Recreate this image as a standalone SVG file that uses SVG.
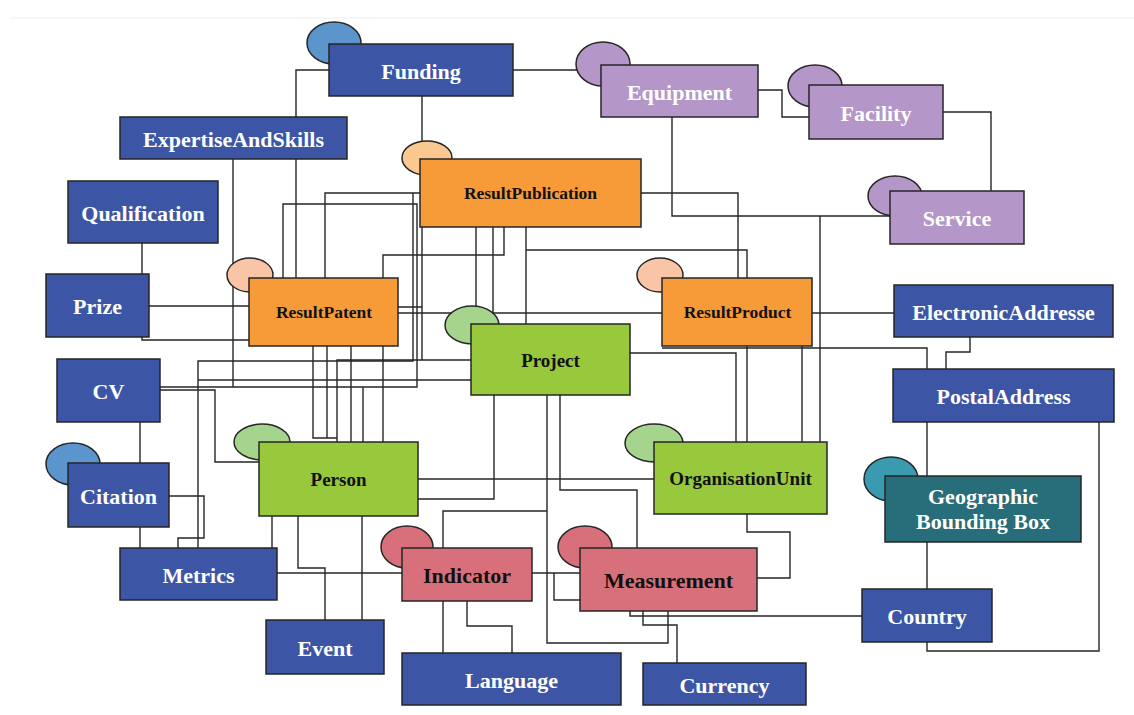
<svg xmlns="http://www.w3.org/2000/svg" width="1134" height="715" viewBox="0 0 1134 715">
<style>
.bg{fill:#ffffff}
.c path{fill:none;stroke:#262626;stroke-width:1.4}
rect{stroke:#262626;stroke-width:1.5}
ellipse{stroke:#262626;stroke-width:1.5}
.blue{fill:#3D55A5}
.pur{fill:#B496C8}
.ora{fill:#F79A38}
.grn{fill:#98C83C}
.red{fill:#D8707C}
.teal{fill:#276D7A}
.eblue{fill:#5B95CB}
.epeach{fill:#FBC98F}
.epink{fill:#F9C5A6}
.egrn{fill:#A5D48D}
.eteal{fill:#3A9AAF}
text{font-family:"Liberation Serif","Times New Roman",serif;font-weight:bold;text-anchor:middle}
.w{fill:#ffffff;font-size:22px}
.k{fill:#111111;font-size:22px}
.g{fill:#111111;font-size:19px}
.o{fill:#111111;font-size:17.5px}
</style>
<rect class="bg" x="0" y="0" width="1134" height="715" style="stroke:none"/>
<line x1="10" y1="18" x2="1134" y2="18" stroke="#eeeeee" stroke-width="1"/>
<g id="connectors" class="c">
<path d="M513,70 H578"/>
<path d="M329,70 H296 V278"/>
<path d="M422,96 V142"/>
<path d="M758,90 H782 V117 H809"/>
<path d="M672,117 V216 H890"/>
<path d="M820,216 V442"/>
<path d="M943,112 H991 V191"/>
<path d="M233,159 V387"/>
<path d="M160,387 H417 V204 H283 V278"/>
<path d="M363,387 V442"/>
<path d="M142,243 V274"/>
<path d="M149,306 H249"/>
<path d="M142,337 V340 H249"/>
<path d="M420,193 H325 V278"/>
<path d="M198,548 V361 H413 V193"/>
<path d="M198,380 H471"/>
<path d="M422,227 V360 M398,307 H422 M337,442 V360 H471"/>
<path d="M313,346 V438 H337 M327,346 V438 M351,346 V442"/>
<path d="M504,227 V255 H383 V442"/>
<path d="M476,227 V324 M493,227 V324"/>
<path d="M526,227 V324 M526,250 H747 V278"/>
<path d="M641,193 H738 V278"/>
<path d="M398,313 H662"/>
<path d="M812,313 H894"/>
<path d="M662,348 H927 V369"/>
<path d="M625,353 H736 V442"/>
<path d="M747,346 V442 M802,346 V442"/>
<path d="M970,337 V352 H946 V369"/>
<path d="M927,422 V476"/>
<path d="M927,542 V589"/>
<path d="M1099,422 V651 H927 V642"/>
<path d="M140,422 V463"/>
<path d="M140,527 V548"/>
<path d="M169,496 H204 V538 H178 V548"/>
<path d="M160,390 H215 V462 H259"/>
<path d="M272,516 V548"/>
<path d="M298,516 V568 H325 V620"/>
<path d="M362,516 V620"/>
<path d="M277,573 H402"/>
<path d="M494,395 V499 H418"/>
<path d="M418,479 H654"/>
<path d="M547,395 V643 H668 V611"/>
<path d="M547,511 H443 V548"/>
<path d="M560,395 V490 H637 V548"/>
<path d="M532,573 H580"/>
<path d="M554,573 V600 H580"/>
<path d="M443,601 V653"/>
<path d="M467,601 V626 H512 V653"/>
<path d="M747,514 V532 H790 V578 H757"/>
<path d="M630,611 V616 H862"/>
<path d="M643,611 V625 H677 V663"/>
</g>
<g id="Funding"><ellipse class="eblue" cx="334" cy="43" rx="27" ry="21"/><rect class="blue" x="329" y="44" width="184" height="52"/><text class="w" x="421" y="78.5">Funding</text></g>
<g id="Equipment"><ellipse class="pur" cx="603" cy="64" rx="27" ry="22"/><rect class="pur" x="601" y="65" width="157" height="52"/><text class="w" x="679.5" y="99.5">Equipment</text></g>
<g id="Facility"><ellipse class="pur" cx="815" cy="86" rx="27" ry="21"/><rect class="pur" x="809" y="85" width="134" height="54"/><text class="w" x="876" y="120.5">Facility</text></g>
<g id="Service"><ellipse class="pur" cx="895" cy="196" rx="27" ry="20"/><rect class="pur" x="890" y="191" width="134" height="53"/><text class="w" x="957" y="225.5">Service</text></g>
<g id="ExpertiseAndSkills"><rect class="blue" x="120" y="117" width="227" height="42"/><text class="w" x="233.5" y="146.5">ExpertiseAndSkills</text></g>
<g id="Qualification"><rect class="blue" x="68" y="181" width="150" height="62"/><text class="w" x="143" y="220.5">Qualification</text></g>
<g id="Prize"><rect class="blue" x="46" y="274" width="103" height="63"/><text class="w" x="97.5" y="314">Prize</text></g>
<g id="ResultPatent"><ellipse class="epink" cx="250" cy="275" rx="23" ry="17"/><rect class="ora" x="249" y="278" width="149" height="68"/><text class="o" x="324" y="318">ResultPatent</text></g>
<g id="ResultPublication"><ellipse class="epeach" cx="427" cy="158" rx="25" ry="17"/><rect class="ora" x="420" y="159" width="221" height="68"/><text class="o" x="530.5" y="199">ResultPublication</text></g>
<g id="ResultProduct"><ellipse class="epink" cx="660" cy="275" rx="23" ry="17"/><rect class="ora" x="662" y="278" width="150" height="68"/><text class="o" x="737.5" y="318">ResultProduct</text></g>
<g id="Project"><ellipse class="egrn" cx="472" cy="325" rx="27" ry="19"/><rect class="grn" x="471" y="324" width="159" height="71"/><text class="g" x="550.5" y="366.5">Project</text></g>
<g id="ElectronicAddresse"><rect class="blue" x="894" y="285" width="219" height="52"/><text class="w" x="1003.5" y="319.5">ElectronicAddresse</text></g>
<g id="PostalAddress"><rect class="blue" x="893" y="369" width="221" height="53"/><text class="w" x="1003.5" y="404">PostalAddress</text></g>
<g id="CV"><rect class="blue" x="57" y="359" width="103" height="63"/><text class="w" x="108.5" y="399">CV</text></g>
<g id="Person"><ellipse class="egrn" cx="262" cy="442" rx="28" ry="18"/><rect class="grn" x="259" y="442" width="159" height="74"/><text class="g" x="338.5" y="486">Person</text></g>
<g id="OrganisationUnit"><ellipse class="egrn" cx="654" cy="443" rx="29" ry="19"/><rect class="grn" x="654" y="442" width="173" height="72"/><text class="g" x="740.5" y="485">OrganisationUnit</text></g>
<g id="GeographicBoundingBox"><ellipse class="eteal" cx="891" cy="479" rx="27" ry="22"/><rect class="teal" x="885" y="476" width="196" height="66"/><text class="w" x="983" y="504">Geographic</text><text class="w" x="983" y="529">Bounding Box</text></g>
<g id="Citation"><ellipse class="eblue" cx="73" cy="464" rx="27" ry="21"/><rect class="blue" x="68" y="463" width="101" height="64"/><text class="w" x="118.5" y="503.5">Citation</text></g>
<g id="Metrics"><rect class="blue" x="120" y="548" width="157" height="52"/><text class="w" x="198.5" y="582.5">Metrics</text></g>
<g id="Indicator"><ellipse class="red" cx="407" cy="547" rx="26" ry="21"/><rect class="red" x="402" y="548" width="130" height="53"/><text class="k" x="467" y="583">Indicator</text></g>
<g id="Measurement"><ellipse class="red" cx="585" cy="547" rx="27" ry="21"/><rect class="red" x="580" y="548" width="177" height="63"/><text class="k" x="668.5" y="588">Measurement</text></g>
<g id="Country"><rect class="blue" x="862" y="589" width="130" height="53"/><text class="w" x="927" y="624">Country</text></g>
<g id="Event"><rect class="blue" x="266" y="620" width="118" height="54"/><text class="w" x="325" y="655.5">Event</text></g>
<g id="Language"><rect class="blue" x="402" y="653" width="219" height="52"/><text class="w" x="511.5" y="687.5">Language</text></g>
<g id="Currency"><rect class="blue" x="643" y="663" width="163" height="42"/><text class="w" x="724.5" y="692.5">Currency</text></g>
</svg>
